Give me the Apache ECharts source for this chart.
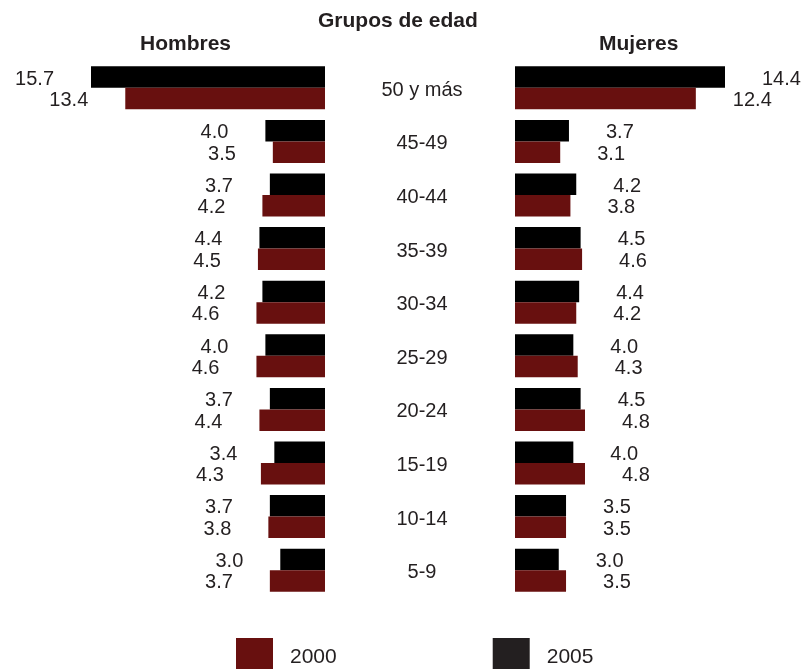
<!DOCTYPE html>
<html>
<head>
<meta charset="utf-8">
<script src="https://cdn.jsdelivr.net/npm/echarts@6/dist/echarts.min.js"></script>
<style>
  html, body { margin: 0; padding: 0; background: #fff; }
  #chart { width: 801px; height: 669px; }
</style>
</head>
<body>
<div id="chart"></div>
<script>
// Age groups, oldest at the top
const groups = ['50 y más', '45-49', '40-44', '35-39', '30-34', '25-29', '20-24', '15-19', '10-14', '5-9'];

// Percentages per age group
const men2005   = [15.7, 4.0, 3.7, 4.4, 4.2, 4.0, 3.7, 3.4, 3.7, 3.0];
const men2000   = [13.4, 3.5, 4.2, 4.5, 4.6, 4.6, 4.4, 4.3, 3.8, 3.7];
const women2005 = [14.4, 3.7, 4.2, 4.5, 4.4, 4.0, 4.5, 4.0, 3.5, 3.0];
const women2000 = [12.4, 3.1, 3.8, 4.6, 4.2, 4.3, 4.8, 4.8, 3.5, 3.5];

const RED = '#68100f';
const BLACK = '#000000';
const INK = '#231f20';
const FONT = '"Liberation Sans", Arial, sans-serif';

const chart = echarts.init(document.getElementById('chart'), null, { renderer: 'canvas' });

function barSeries(name, data, side, color) {
  return {
    name: name,
    type: 'bar',
    xAxisIndex: side,
    yAxisIndex: side,
    data: data,
    barWidth: 21.5,
    barGap: '0%',
    itemStyle: { color: color },
    label: {
      show: true,
      position: side === 0 ? 'left' : 'right',
      distance: 37,
      offset: [0, 2],
      color: INK,
      fontFamily: FONT,
      fontSize: 20,
      formatter: p => p.value.toFixed(1)
    },
    emphasis: { disabled: true },
    animation: false
  };
}

chart.setOption({
  animation: false,
  textStyle: { fontFamily: FONT },
  grid: [
    { left: 91, width: 234, top: 61, height: 536 },
    { left: 515, width: 210, top: 61, height: 536 }
  ],
  xAxis: [
    { gridIndex: 0, type: 'value', min: 0, max: 15.7, inverse: true, show: false },
    { gridIndex: 1, type: 'value', min: 0, max: 14.4, show: false }
  ],
  yAxis: [
    {
      gridIndex: 0, type: 'category', data: groups, inverse: true, position: 'right',
      axisLine: { show: false }, axisTick: { show: false },
      axisLabel: {
        align: 'center', margin: 97,
        formatter: v => '{c|' + v + '}',
        rich: { c: { color: INK, fontSize: 20, fontFamily: FONT, padding: [5, 0, 0, 0] } }
      }
    },
    {
      gridIndex: 1, type: 'category', data: groups, inverse: true,
      axisLine: { show: false }, axisTick: { show: false }, axisLabel: { show: false }
    }
  ],
  legend: {
    left: 236,
    top: 638,
    padding: 0,
    itemWidth: 37,
    itemHeight: 38,
    itemGap: 156,
    textStyle: { color: INK, fontSize: 21, fontFamily: FONT, padding: [0, 0, 0, 12] },
    selectedMode: false,
    data: [
      { name: '2000', icon: 'rect', itemStyle: { color: RED } },
      { name: '2005', icon: 'rect', itemStyle: { color: INK } }
    ]
  },
  graphic: [
    { type: 'text', left: 318, top: 11, style: { text: 'Grupos de edad', font: 'bold 21px ' + FONT, fill: INK } },
    { type: 'text', left: 140, top: 34, style: { text: 'Hombres', font: 'bold 21px ' + FONT, fill: INK } },
    { type: 'text', left: 599, top: 34, style: { text: 'Mujeres', font: 'bold 21px ' + FONT, fill: INK } }
  ],
  series: [
    barSeries('2005', men2005, 0, BLACK),
    barSeries('2000', men2000, 0, RED),
    barSeries('2005', women2005, 1, BLACK),
    barSeries('2000', women2000, 1, RED)
  ]
});
</script>
</body>
</html>
